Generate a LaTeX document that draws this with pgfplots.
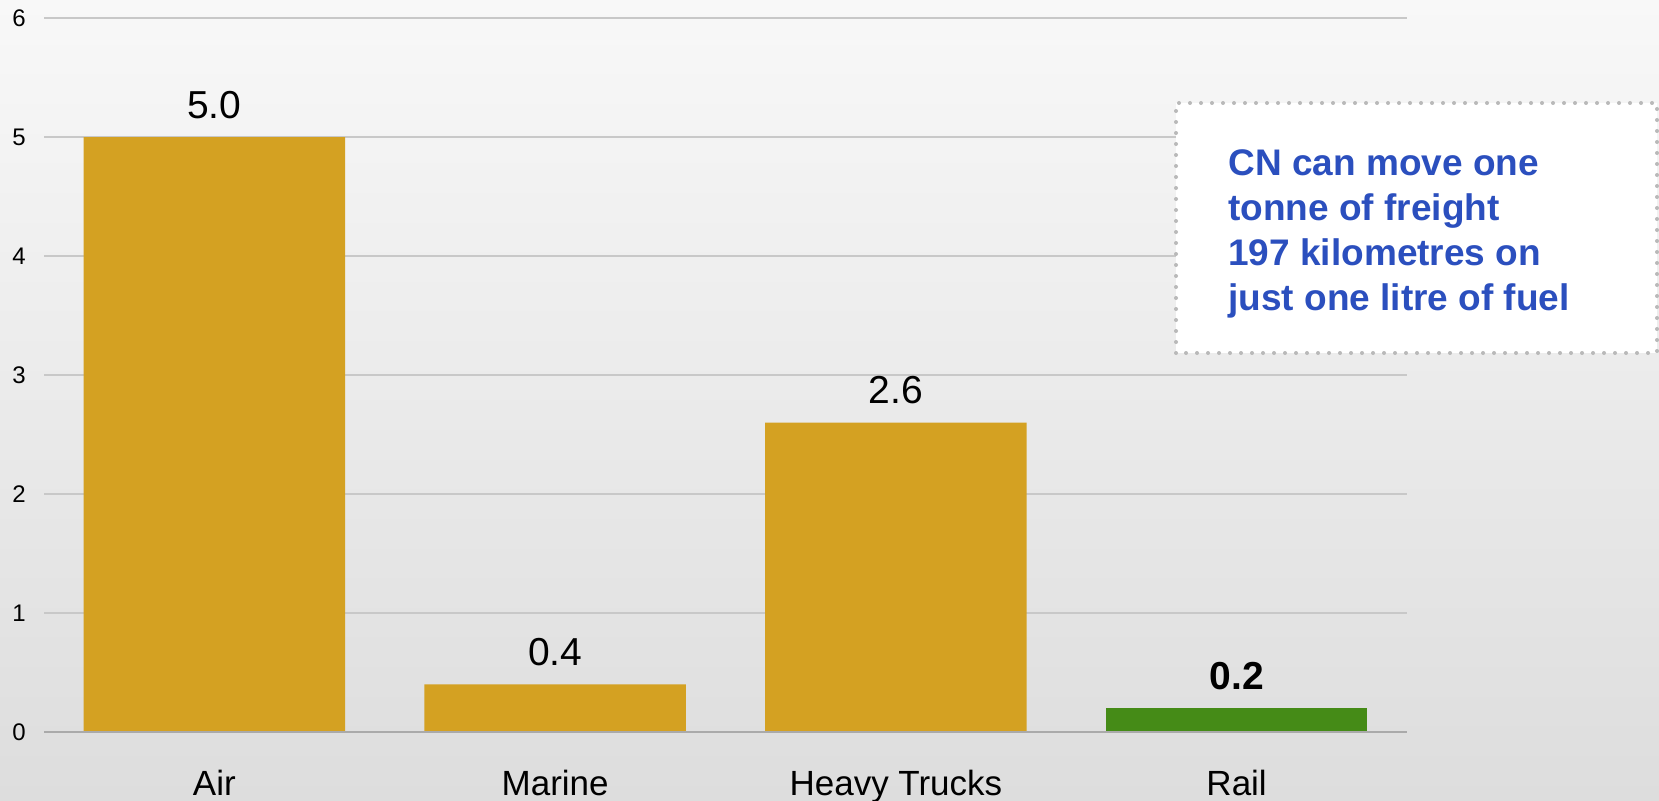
\documentclass[border=0pt]{standalone}
\usepackage{pgfplots}
\pgfplotsset{compat=1.18}
\usepackage{fontspec}
\setmainfont{Liberation Sans}
\definecolor{gold}{RGB}{212,161,34}
\definecolor{railgreen}{RGB}{69,139,23}
\definecolor{boxblue}{RGB}{43,79,190}
\definecolor{bgtop}{RGB}{248,248,248}
\definecolor{bgbot}{RGB}{221,221,221}
\definecolor{gridc}{RGB}{200,200,200}
\definecolor{basec}{RGB}{170,170,170}
\definecolor{dotc}{RGB}{185,185,185}
\begin{document}
\begin{tikzpicture}
\useasboundingbox (0,0) rectangle (829.5pt,400pt);
\clip (0,0) rectangle (829.5pt,400pt);
\fill[top color=bgtop, bottom color=bgbot] (0,0) rectangle (829.5pt,400pt);
\begin{axis}[
  at={(22pt,34pt)}, anchor=south west,
  scale only axis, width=681.5pt, height=357pt,
  xmin=-0.5, xmax=3.5, ymin=0, ymax=6,
  ybar, bar width=0.767, bar shift=0pt,
  axis line style={draw=none},
  major tick length=0pt,
  xtick={0,1,2,3}, xticklabels={Air,Marine,Heavy Trucks,Rail},
  ytick={0,1,2,3,4,5,6},
  ymajorgrids, grid style={draw=gridc, line width=1pt},
  /pgf/number format/assume math mode=true,
  yticklabel style={font=\fontsize{12pt}{14pt}\selectfont, anchor=center, xshift=-12.5pt},
  xticklabel style={font=\fontsize{17.5pt}{20pt}\selectfont, anchor=base, yshift=-31.5pt},
  nodes near coords={\pgfmathprintnumber[fixed,fixed zerofill,precision=1]{\pgfplotspointmeta}},
  every node near coord/.append style={font=\fontsize{19.5pt}{23pt}\selectfont, anchor=base, yshift=9.5pt, text=black},
  clip=false,
]
\addplot[fill=gold, draw=none] coordinates {(0,5.0) (1,0.4) (2,2.6)};
\addplot[fill=railgreen, draw=none, every node near coord/.append style={font=\bfseries\fontsize{19.5pt}{23pt}\selectfont}] coordinates {(3,0.2)};
\draw[basec, line width=1pt] (axis cs:-0.5,0) -- (axis cs:3.5,0);
\end{axis}
\draw[dotc, line width=2pt, dash pattern=on 0pt off 5.5pt, line cap=round, fill=white] (588pt,223.5pt) rectangle (828.5pt,348.5pt);
\begin{scope}[every node/.style={anchor=base west, text=boxblue, font=\bfseries\fontsize{18.5pt}{22pt}\selectfont, inner sep=0pt}]
\node at (614pt,312.5pt) {CN can move one};
\node at (614pt,290pt) {tonne of freight};
\node at (614pt,267.5pt) {197 kilometres on};
\node at (614pt,245pt) {just one litre of fuel};
\end{scope}
\end{tikzpicture}
\end{document}
